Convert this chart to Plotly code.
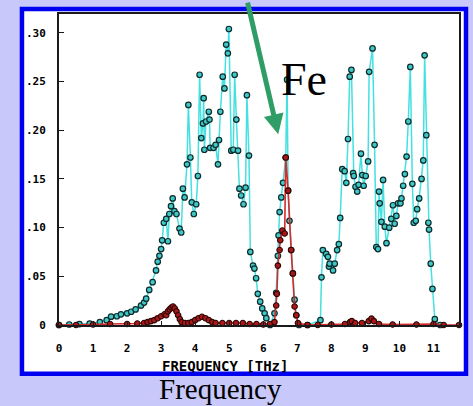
import plotly.graph_objects as go

# ---- data ----
total_x = [0.0, 0.3, 0.6, 0.9, 1.2, 1.4, 1.53, 1.7, 1.82, 2.0, 2.12, 2.25, 2.41, 2.5, 2.56, 2.65,
           2.75, 2.85, 2.90, 2.95, 3.00, 3.03, 3.08, 3.15, 3.20, 3.24, 3.29, 3.34, 3.39, 3.45,
           3.54, 3.59, 3.64, 3.69, 3.76, 3.80, 3.86, 3.90, 3.96, 4.03, 4.08, 4.13, 4.18, 4.23,
           4.25, 4.27, 4.32, 4.40, 4.42, 4.44, 4.54, 4.60, 4.67, 4.70, 4.74, 4.81, 4.86, 4.91,
           4.96, 4.99, 5.06, 5.12, 5.16, 5.21, 5.26, 5.30, 5.35, 5.42, 5.48, 5.52, 5.58, 5.62,
           5.70, 5.74, 5.79, 5.84, 5.91, 5.97, 6.04, 6.09, 6.20, 6.33, 6.38, 6.43, 6.45, 6.48,
           6.53, 6.58, 6.66, 6.70, 6.73, 6.77, 6.82, 6.87, 6.92, 6.97, 7.05, 7.30, 7.68, 7.71,
           7.75, 7.85, 7.90, 7.93, 7.95, 8.05, 8.10, 8.17, 8.22, 8.26, 8.32, 8.39, 8.44, 8.49,
           8.54, 8.59, 8.64, 8.66, 8.71, 8.76, 8.80, 8.87, 8.91, 8.95, 9.01, 9.08, 9.11, 9.21,
           9.27, 9.32, 9.37, 9.40, 9.42, 9.47, 9.52, 9.57, 9.62, 9.70, 9.76, 9.81, 9.86, 9.91,
           9.96, 10.03, 10.06, 10.11, 10.16, 10.21, 10.26, 10.32, 10.38, 10.42, 10.48, 10.52,
           10.58, 10.65, 10.70, 10.74, 10.79, 10.85, 10.87, 10.92, 10.97, 11.04, 11.20]
total_y = [0.0, 0.0005, 0.001, 0.0015, 0.003, 0.005, 0.0085, 0.009, 0.011, 0.012, 0.0136, 0.016,
           0.020, 0.023, 0.027, 0.036, 0.044, 0.056, 0.065, 0.071, 0.078, 0.087, 0.105, 0.109,
           0.086, 0.114, 0.122, 0.130, 0.117, 0.114, 0.099, 0.095, 0.140, 0.131, 0.165, 0.226,
           0.172, 0.126, 0.114, 0.124, 0.153, 0.257, 0.192, 0.207, 0.233, 0.180, 0.209, 0.219,
           0.211, 0.182, 0.182, 0.185, 0.165, 0.190, 0.219, 0.255, 0.243, 0.288, 0.279, 0.304,
           0.179, 0.180, 0.257, 0.211, 0.179, 0.140, 0.133, 0.124, 0.141, 0.236, 0.174, 0.075,
           0.061, 0.058, 0.048, 0.032, 0.024, 0.017, 0.012, 0.007, 0.0, 0.012, 0.033, 0.071,
           0.092, 0.116, 0.131, 0.146, 0.172, 0.252, 0.138, 0.107, 0.077, 0.053, 0.026, 0.010,
           0.0, 0.0, 0.005, 0.049, 0.077, 0.073, 0.070, 0.060, 0.063, 0.056, 0.063, 0.077,
           0.083, 0.110, 0.160, 0.158, 0.146, 0.191, 0.255, 0.262, 0.156, 0.153, 0.142, 0.137,
           0.144, 0.176, 0.154, 0.143, 0.153, 0.168, 0.260, 0.284, 0.185, 0.080, 0.078, 0.137,
           0.125, 0.106, 0.149, 0.101, 0.084, 0.100, 0.109, 0.123, 0.104, 0.112, 0.125, 0.125,
           0.130, 0.143, 0.155, 0.173, 0.209, 0.265, 0.145, 0.105, 0.107, 0.119, 0.130, 0.150,
           0.169, 0.277, 0.195, 0.105, 0.098, 0.063, 0.037, 0.006, 0.0]

fe_x = [0.0, 0.5, 1.0, 1.5, 2.0, 2.3, 2.5, 2.6, 2.7, 2.8, 2.9, 3.0, 3.1, 3.15, 3.2, 3.25, 3.3,
        3.35, 3.4, 3.45, 3.5, 3.55, 3.6, 3.7, 3.8, 3.9, 4.0, 4.1, 4.2, 4.3, 4.4, 4.5, 4.6, 4.8,
        5.0, 5.2, 5.4, 5.6, 5.8, 6.0, 6.2, 6.33, 6.38, 6.40, 6.43, 6.48, 6.50, 6.56, 6.63, 6.66,
        6.73, 6.82, 6.87, 6.92, 6.97, 7.02, 7.3, 7.6, 8.0, 8.4, 8.55, 8.6, 8.7, 8.9, 9.1, 9.18,
        9.25, 9.4, 9.8, 10.5, 11.0, 11.3, 11.75]
fe_y = [0.0, 0.0, 0.0005, 0.001, 0.001, 0.0015, 0.002, 0.003, 0.004, 0.005, 0.007, 0.009, 0.011,
        0.010, 0.014, 0.016, 0.018, 0.019, 0.017, 0.014, 0.010, 0.006, 0.003, 0.002, 0.002,
        0.003, 0.005, 0.007, 0.0085, 0.007, 0.005, 0.003, 0.002, 0.002, 0.002, 0.002, 0.002,
        0.001, 0.001, 0.0005, 0.001, 0.003, 0.020, 0.032, 0.061, 0.077, 0.087, 0.097, 0.094,
        0.172, 0.138, 0.077, 0.053, 0.019, 0.010, 0.002, 0.0, 0.0, 0.0005, 0.001, 0.003, 0.004,
        0.002, 0.002, 0.004, 0.0065, 0.004, 0.001, 0.0005, 0.0005, 0.001, 0.0, 0.0]

x_tick_vals = list(range(12))
x_tick_text = [str(v) for v in x_tick_vals]
y_tick_vals = [0, 0.05, 0.10, 0.15, 0.20, 0.25, 0.30]
y_tick_text = ["0", ".05", ".10", ".15", ".20", ".25", ".30"]

fig = go.Figure()
fig.add_trace(go.Scatter(
    x=total_x, y=total_y, mode="lines+markers", cliponaxis=False,
    line=dict(color="#45e0e0", width=1.5),
    marker=dict(size=5.5, color="#40c8c8", line=dict(color="#0d2b2b", width=1.2)),
    showlegend=False))
fig.add_trace(go.Scatter(
    x=fe_x, y=fe_y, mode="lines+markers", cliponaxis=False,
    line=dict(color="#d42a2a", width=1.6),
    marker=dict(size=5.5, color="#a81818", line=dict(color="#2a0505", width=1.1)),
    showlegend=False))

mono = dict(family="DejaVu Sans Mono", size=11, color="black", weight="bold")

fig.update_xaxes(range=[0, 11.75], tickvals=x_tick_vals, ticktext=x_tick_text,
                 showgrid=False, zeroline=False, showline=True, mirror=True,
                 linecolor="#1a1a1a", linewidth=2, ticks="inside", ticklen=4,
                 tickcolor="#1a1a1a", tickfont=mono, ticklabelstandoff=12)
fig.update_yaxes(range=[0, 0.3194], tickvals=y_tick_vals, ticktext=y_tick_text,
                 showgrid=False, zeroline=False, showline=True, mirror=True,
                 linecolor="#1a1a1a", linewidth=2, ticks="inside", ticklen=5,
                 tickcolor="#1a1a1a", tickfont=mono, ticklabelstandoff=9)

fig.add_shape(type="rect", xref="paper", yref="paper",
              x0=-0.0926, x1=1.0175, y0=-0.1565, y1=1.016,
              line=dict(color="#0000f0", width=4.5), fillcolor="white", layer="below")

fig.add_annotation(xref="paper", yref="paper", x=0.4155, y=-0.131, showarrow=False,
                   xanchor="center", yanchor="middle",
                   text="FREQUENCY [THz]",
                   font=dict(family="DejaVu Sans Mono", size=14, color="black", weight="bold"))
fig.add_annotation(xref="paper", yref="paper", x=0.403, y=-0.2045, showarrow=False,
                   xanchor="center", yanchor="middle",
                   text="Frequency",
                   font=dict(family="Liberation Serif", size=29, color="black"))
fig.add_annotation(xref="paper", yref="paper", x=0.613, y=0.79, showarrow=False,
                   xanchor="center", yanchor="middle",
                   text="Fe",
                   font=dict(family="Liberation Serif", size=46, color="black"))
fig.add_annotation(x=6.44, y=0.196, ax=-31, ay=-133, text="", showarrow=True,
                   arrowhead=2, arrowsize=0.8, arrowwidth=5, arrowcolor="#2f9e66")

fig.update_layout(width=473, height=406, margin=dict(l=59, r=14, t=12, b=81),
                  paper_bgcolor="#c8c8fa", plot_bgcolor="white")

fig.write_html("out.html", config={"displayModeBar": False},
               post_script="document.body.style.margin='0';")
